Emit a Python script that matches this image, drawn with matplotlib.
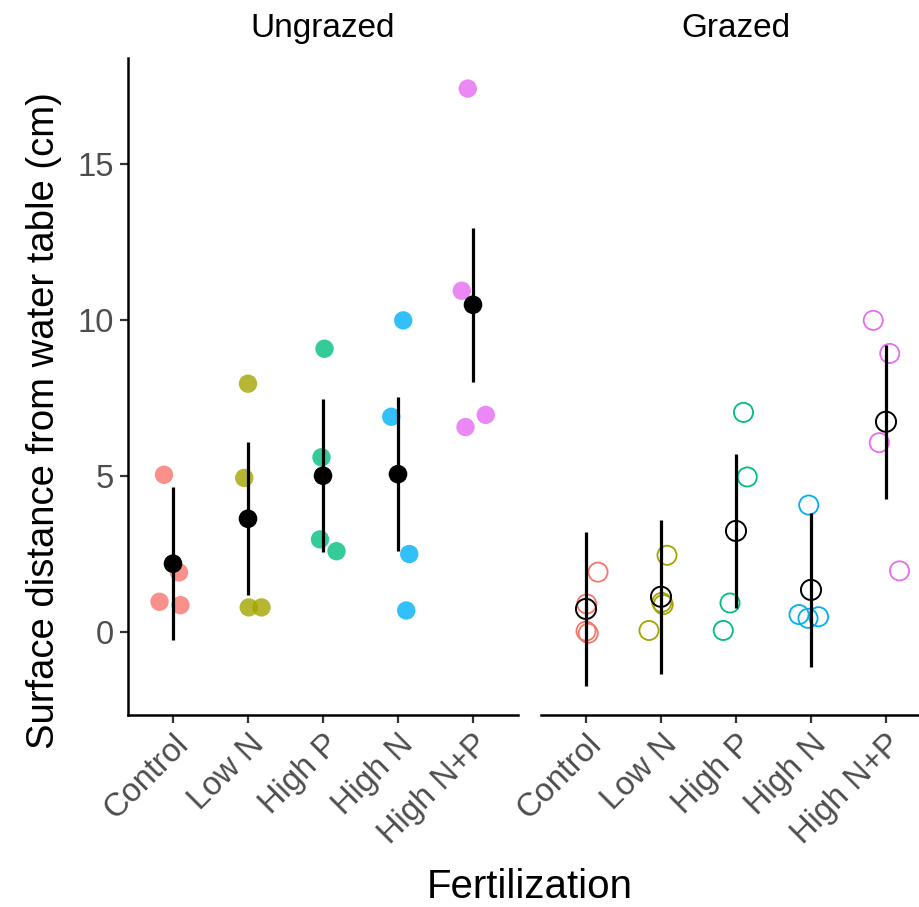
import numpy as np
import matplotlib.pyplot as plt

plt.rcParams['font.family'] = ['Liberation Sans', 'DejaVu Sans']

# categories and group colours (ggplot default hue palette)
treatments = ['Control', 'Low N', 'High P', 'High N', 'High N+P']
colors = ['#F8766D', '#A3A500', '#00BF7D', '#00B0F6', '#E76BF3']

# raw plot values (cm), with their horizontal jitter
ungrazed_vals = [[5.04, 1.91, 0.97, 0.86],
                 [7.96, 4.94, 0.79, 0.79],
                 [9.08, 5.60, 2.97, 2.59],
                 [9.99, 6.90, 2.50, 0.69],
                 [17.42, 10.94, 6.96, 6.57]]
ungrazed_jit = [[-0.12, 0.08, -0.18, 0.10],
                [0.00, -0.05, 0.01, 0.18],
                [0.02, -0.02, -0.04, 0.18],
                [0.07, -0.09, 0.15, 0.11],
                [-0.07, -0.15, 0.17, -0.10]]

grazed_vals = [[1.92, 0.90, 0.03, -0.04],
               [2.46, 0.95, 0.88, 0.05],
               [7.04, 4.97, 0.93, 0.05],
               [4.07, 0.56, 0.44, 0.49],
               [9.99, 8.93, 6.07, 1.96]]
grazed_jit = [[0.16, 0.01, 0.00, 0.03],
              [0.08, 0.01, 0.03, -0.16],
              [0.10, 0.15, -0.08, -0.17],
              [-0.03, -0.16, -0.04, 0.10],
              [-0.17, 0.05, -0.09, 0.18]]

# group means and confidence half-widths
ungrazed_mean = [2.19, 3.63, 5.01, 5.06, 10.49]
ungrazed_ci = [2.46, 2.45, 2.45, 2.46, 2.46]
grazed_mean = [0.74, 1.13, 3.24, 1.35, 6.74]
grazed_ci = [2.46, 2.47, 2.46, 2.47, 2.47]

fig = plt.figure(figsize=(9.2, 9.07), dpi=100)
W, H = 920, 907
ax1 = fig.add_axes([128 / W, (H - 715) / H, 390 / W, 657 / H])
ax2 = fig.add_axes([541 / W, (H - 715) / H, 390 / W, 657 / H])

x = np.arange(len(treatments))
for ax, vals, jit, means, ci, filled, title in [
        (ax1, ungrazed_vals, ungrazed_jit, ungrazed_mean, ungrazed_ci, True, 'Ungrazed'),
        (ax2, grazed_vals, grazed_jit, grazed_mean, grazed_ci, False, 'Grazed')]:
    for i in range(len(treatments)):
        xs = x[i] + np.array(jit[i])
        if filled:
            ax.scatter(xs, vals[i], s=175, color=colors[i], alpha=0.8,
                       edgecolors='none', zorder=2, clip_on=False)
        else:
            ax.scatter(xs, vals[i], s=190, facecolors='none', edgecolors=colors[i],
                       linewidths=1.3, zorder=2, clip_on=False)
    ax.vlines(x, np.array(means) - np.array(ci), np.array(means) + np.array(ci),
              color='black', lw=2.3, zorder=3)
    if filled:
        ax.scatter(x, means, s=180, color='black', edgecolors='none', zorder=4)
    else:
        ax.scatter(x, means, s=210, facecolors='none', edgecolors='black',
                   linewidths=1.4, zorder=4)

    ax.set_xlim(-0.6, len(treatments) - 0.4)
    ax.set_ylim(-2.66, 18.4)
    ax.set_xticks(x)
    ax.set_xticklabels(treatments, rotation=45, ha='right', va='top',
                       rotation_mode='anchor', fontsize=23.5, color='#4D4D4D')
    ax.tick_params(axis='x', length=6, width=1.6, color='#333333', pad=4)
    for s in ['top', 'right']:
        ax.spines[s].set_visible(False)
    ax.spines['bottom'].set_linewidth(1.8)
    ax.spines['left'].set_linewidth(1.8)
    ax.set_title(title, fontsize=24, pad=15)

ax1.set_yticks([0, 5, 10, 15])
ax1.set_yticklabels(['0', '5', '10', '15'], fontsize=23.5, color='#4D4D4D')
ax1.tick_params(axis='y', length=6, width=1.6, color='#333333', pad=4)
ax2.spines['left'].set_visible(False)
ax2.set_yticks([])

fig.text(44 / W, (H - 421) / H, 'Surface distance from water table (cm)',
         rotation=90, ha='center', va='center', fontsize=27.5)
fig.text(530 / W, (H - 887) / H, 'Fertilization', ha='center', va='center',
         fontsize=29)

fig.savefig('out.png', dpi=100)
